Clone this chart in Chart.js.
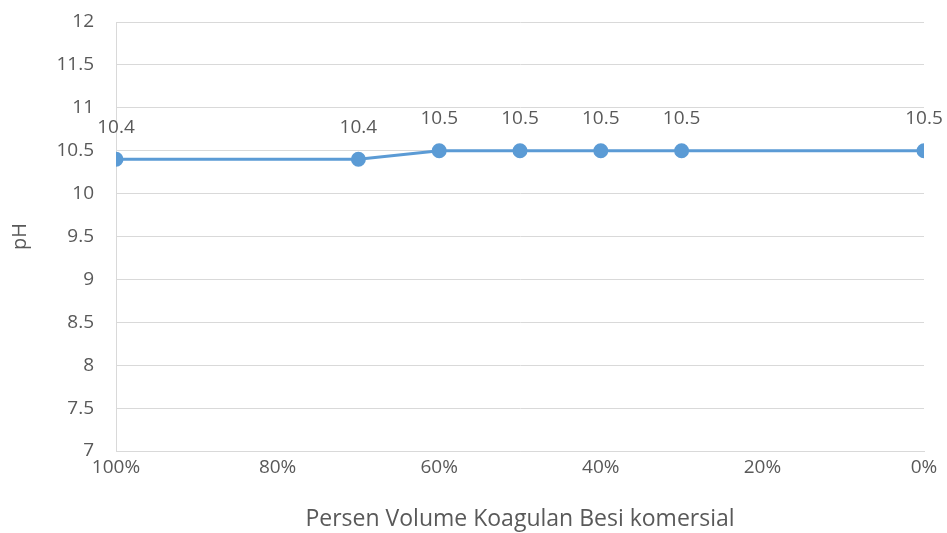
<!DOCTYPE html>
<html>
<head>
<meta charset="utf-8">
<script src="https://cdn.jsdelivr.net/npm/chart.js@4/dist/chart.umd.min.js"></script>
<style>
  html, body { margin: 0; padding: 0; background: #fff; }
  canvas { display: block; }
</style>
</head>
<body>
<canvas id="phChart" width="947" height="533"></canvas>
<script>
// chart data
const volumePercent = [100, 70, 60, 50, 40, 30, 0];
const phValues = [10.4, 10.4, 10.5, 10.5, 10.5, 10.5, 10.5];
const xTicks = [100, 80, 60, 40, 20, 0];
const yMin = 7, yMax = 12, yStep = 0.5;

const textColor = '#595959';
const gridColor = '#d9d9d9';
const lineColor = '#5b9bd5';
const fontFamily = "'Open Sans', 'Noto Sans', sans-serif";
const tickSize = 19;

// draws the value above every point
const pointLabels = {
  id: 'pointLabels',
  afterDatasetsDraw(chart) {
    const ctx = chart.ctx;
    const meta = chart.getDatasetMeta(0);
    ctx.save();
    ctx.fillStyle = textColor;
    ctx.font = `${tickSize}px ${fontFamily}`;
    ctx.textAlign = 'center';
    ctx.textBaseline = 'middle';
    meta.data.forEach((pt, i) => {
      ctx.fillText(phValues[i].toFixed(1), pt.x, pt.y - 32);
    });
    ctx.restore();
  }
};

new Chart(document.getElementById('phChart'), {
  type: 'line',
  data: {
    datasets: [{
      data: volumePercent.map((x, i) => ({ x: x, y: phValues[i] })),
      borderColor: lineColor,
      backgroundColor: lineColor,
      borderWidth: 3,
      pointRadius: 6,
      pointHoverRadius: 6,
      tension: 0
    }]
  },
  options: {
    responsive: false,
    animation: false,
    layout: { padding: { top: 22, right: 23, left: 0, bottom: 0 } },
    plugins: {
      legend: { display: false },
      tooltip: { enabled: false }
    },
    scales: {
      x: {
        type: 'linear',
        reverse: true,
        min: 0,
        max: 100,
        afterBuildTicks: (scale) => { scale.ticks = xTicks.map(v => ({ value: v })); },
        afterFit: (scale) => {
          scale.height = 533 - 451;
          scale.paddingLeft = 0;
          scale.paddingRight = 0;
        },
        grid: { display: false, drawTicks: false },
        border: { display: true, color: gridColor, width: 1 },
        ticks: {
          color: textColor,
          font: { family: fontFamily, size: tickSize },
          padding: 5,
          maxRotation: 0,
          callback: (v) => v + '%'
        },
        title: {
          display: true,
          text: 'Persen Volume Koagulan Besi komersial',
          color: textColor,
          font: { family: fontFamily, size: 23 },
          padding: { top: 16, bottom: 0 }
        }
      },
      y: {
        min: yMin,
        max: yMax,
        afterFit: (scale) => {
          scale.width = 116;
          scale.paddingTop = 0;
          scale.paddingBottom = 0;
        },
        grid: { color: gridColor, drawTicks: false },
        border: { display: true, color: gridColor, width: 1 },
        ticks: {
          stepSize: yStep,
          color: textColor,
          font: { family: fontFamily, size: tickSize },
          padding: 22,
          callback: (v) => String(Number(v))
        },
        title: {
          display: true,
          text: 'pH',
          color: textColor,
          font: { family: fontFamily, size: 20 },
          padding: { top: 8, bottom: 10 }
        }
      }
    }
  },
  plugins: [pointLabels]
});
</script>
</body>
</html>
